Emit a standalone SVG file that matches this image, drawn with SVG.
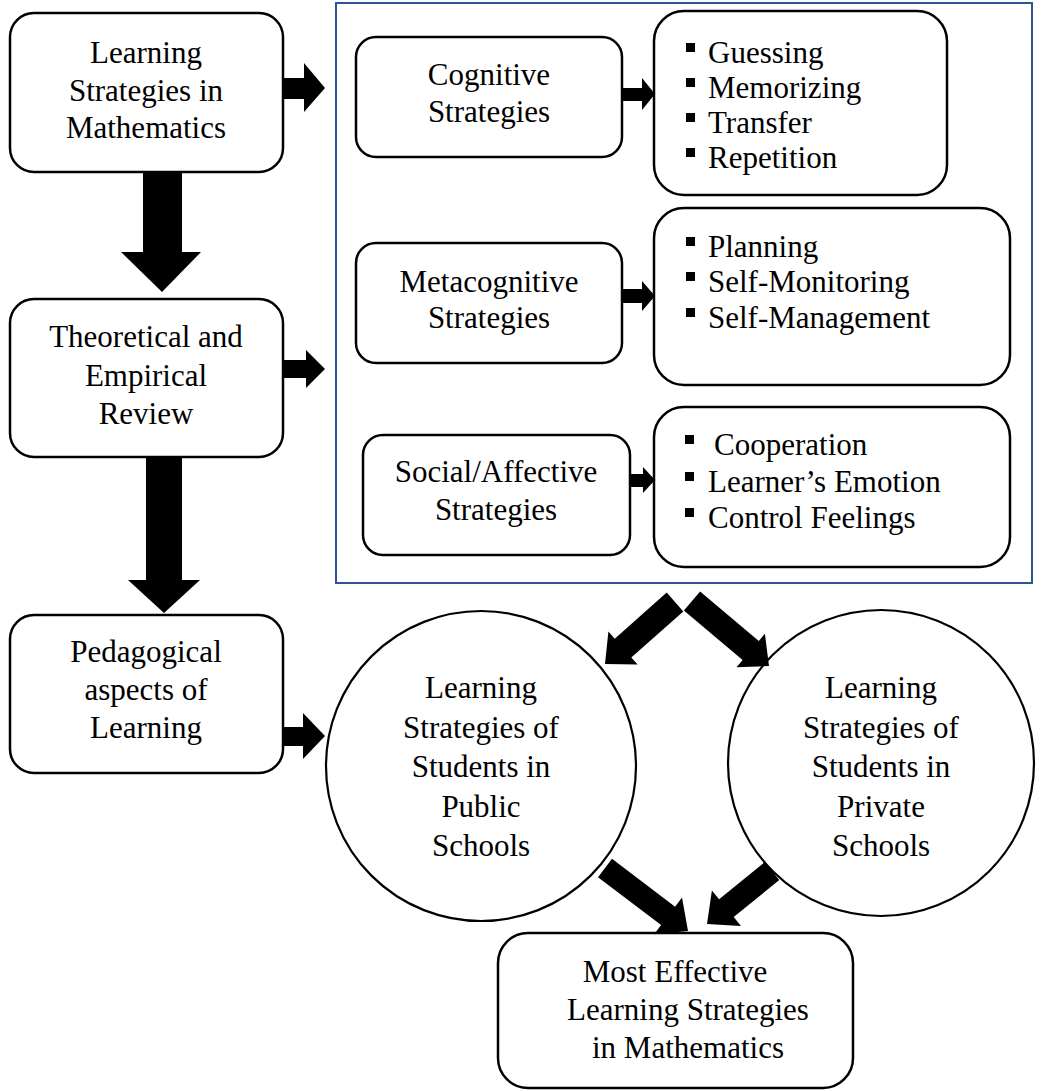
<svg xmlns="http://www.w3.org/2000/svg" width="1046" height="1091" viewBox="0 0 1046 1091" font-family="'Liberation Serif', serif">
<style>
.box{fill:#fff;stroke:#000;stroke-width:2.5}
.circ{fill:#fff;stroke:#000;stroke-width:2.2}
.frame{fill:none;stroke:#2F5496;stroke-width:2}
text{font-family:'Liberation Serif',serif;font-size:31px;fill:#000}
.c{text-anchor:middle}
.arr{fill:#000;stroke:none}
.bul{fill:#000}
</style>
<rect width="1046" height="1091" fill="#fff"/>
<rect id="frame" class="frame" x="336" y="3" width="696" height="580"/>

<g id="n-learning">
<rect class="box" x="10" y="13" width="273" height="159" rx="24"/>
<text class="c" x="146" y="63">Learning</text>
<text class="c" x="146" y="101">Strategies in</text>
<text class="c" x="146" y="138">Mathematics</text>
</g>
<g id="n-review">
<rect class="box" x="10" y="299" width="273" height="158" rx="24"/>
<text class="c" x="146" y="347">Theoretical and</text>
<text class="c" x="146" y="386">Empirical</text>
<text class="c" x="146" y="424">Review</text>
</g>
<g id="n-pedagogical">
<rect class="box" x="10" y="615" width="273" height="158" rx="24"/>
<text class="c" x="146" y="662">Pedagogical</text>
<text class="c" x="146" y="700">aspects of</text>
<text class="c" x="146" y="738">Learning</text>
</g>

<g id="n-cognitive">
<rect class="box" x="356" y="37" width="266" height="120" rx="20"/>
<text class="c" x="489" y="85">Cognitive</text>
<text class="c" x="489" y="122">Strategies</text>
</g>
<g id="n-metacognitive">
<rect class="box" x="356" y="243" width="266" height="120" rx="20"/>
<text class="c" x="489" y="292">Metacognitive</text>
<text class="c" x="489" y="328">Strategies</text>
</g>
<g id="n-social">
<rect class="box" x="363" y="435" width="267" height="120" rx="20"/>
<text class="c" x="496" y="482">Social/Affective</text>
<text class="c" x="496" y="520">Strategies</text>
</g>

<g id="n-cog-list">
<rect class="box" x="654" y="11" width="293" height="184" rx="30"/>
<rect class="bul" x="686" y="43" width="9" height="9"/>
<text x="708" y="63">Guessing</text>
<rect class="bul" x="686" y="78" width="9" height="9"/>
<text x="708" y="98">Memorizing</text>
<rect class="bul" x="686" y="113" width="9" height="9"/>
<text x="708" y="133">Transfer</text>
<rect class="bul" x="686" y="148" width="9" height="9"/>
<text x="708" y="168">Repetition</text>
</g>
<g id="n-meta-list">
<rect class="box" x="654" y="208" width="356" height="177" rx="30"/>
<rect class="bul" x="686" y="237" width="9" height="9"/>
<text x="708" y="257">Planning</text>
<rect class="bul" x="686" y="272" width="9" height="9"/>
<text x="708" y="292">Self-Monitoring</text>
<rect class="bul" x="686" y="308" width="9" height="9"/>
<text x="708" y="328">Self-Management</text>
</g>
<g id="n-social-list">
<rect class="box" x="654" y="407" width="356" height="160" rx="30"/>
<rect class="bul" x="685" y="435" width="9" height="9"/>
<text x="714" y="455">Cooperation</text>
<rect class="bul" x="685" y="472" width="9" height="9"/>
<text x="708" y="492">Learner’s Emotion</text>
<rect class="bul" x="685" y="508" width="9" height="9"/>
<text x="708" y="528">Control Feelings</text>
</g>

<g id="n-public">
<circle class="circ" cx="481" cy="766" r="155"/>
<text class="c" x="481" y="698">Learning</text>
<text class="c" x="481" y="738">Strategies of</text>
<text class="c" x="481" y="777">Students in</text>
<text class="c" x="481" y="817">Public</text>
<text class="c" x="481" y="856">Schools</text>
</g>
<g id="n-private">
<circle class="circ" cx="881" cy="763" r="153"/>
<text class="c" x="881" y="698">Learning</text>
<text class="c" x="881" y="738">Strategies of</text>
<text class="c" x="881" y="777">Students in</text>
<text class="c" x="881" y="817">Private</text>
<text class="c" x="881" y="856">Schools</text>
</g>
<g id="n-effective">
<rect class="box" x="498" y="933" width="355" height="155" rx="30"/>
<text class="c" x="675" y="982">Most Effective</text>
<text class="c" x="688" y="1020">Learning Strategies</text>
<text class="c" x="688" y="1058">in Mathematics</text>
</g>

<g id="connectors">
<polygon class="arr" points="283,78 304,78 304,63 325,88 304,112 304,99 283,99"/>
<polygon class="arr" points="143,172 182,172 182,252 201,252 162,292 121,252 143,252"/>
<polygon class="arr" points="283,360 306,360 306,350 325,369 306,388 306,378 283,378"/>
<polygon class="arr" points="146,457 182,457 182,580 200,580 164,613 128,580 146,580"/>
<polygon class="arr" points="283,727 303,727 303,713 325,736 303,759 303,746 283,746"/>
<polygon class="arr" points="622,88 642,88 642,78 655,94 642,110 642,101 622,101"/>
<polygon class="arr" points="622,289 642,289 642,281 655,296 642,311 642,303 622,303"/>
<polygon class="arr" points="630,474 643,474 643,467 655,480 643,493 643,487 630,487"/>
<polygon class="arr" points="666.7,592.6 614.7,638.7 608.4,631.6 605,664 637.6,664.6 631.3,657.5 683.3,611.4"/>
<polygon class="arr" points="683.9,610.6 742.6,660 736.5,667.3 769,666 764.9,633.7 758.8,640.9 700.1,591.5"/>
<polygon class="arr" points="598,877.2 661.1,925.1 654.2,934.2 688,931 682,897.6 675.1,906.7 612,858.8"/>
<polygon class="arr" points="764.7,862.1 719.1,899.3 711.9,890.4 707,924 740.9,926 733.7,917.1 779.3,879.9"/>
</g>
</svg>
